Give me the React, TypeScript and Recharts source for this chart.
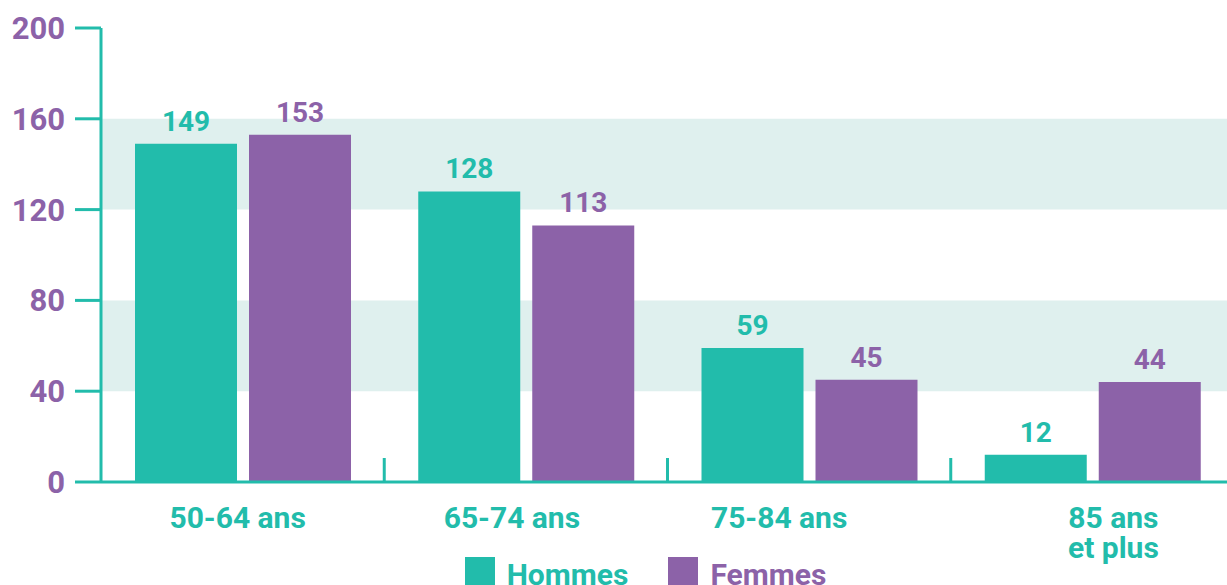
import React from 'react';
import {
  BarChart,
  Bar,
  XAxis,
  YAxis,
  ReferenceArea,
  LabelList,
  Legend
} from 'recharts';

const TEAL = '#22bcab';
const PURPLE = '#8c62a8';
const BAND = '#dff0ee';
const FONT = 'Roboto, "DejaVu Sans", sans-serif';

// values
const ageGroups = ['50-64 ans', '65-74 ans', '75-84 ans', '85 ans\net plus'];
const hommes = [149, 128, 59, 12];
const femmes = [153, 113, 45, 44];
const yTicks = [0, 40, 80, 120, 160, 200];
const bands: [number, number][] = [[40, 80], [120, 160]];

const data = ageGroups.map((name, i) => ({ name, hommes: hommes[i], femmes: femmes[i] }));

// the source places its category labels a little off-centre
const labelNudge = [-5, -14, -30, 21];

const XTick = (props: any) => {
  const { x, y, payload, index } = props;
  const lines = String(payload.value).split('\n');
  const half = payload.offset || 141.5;
  const tx = x + (labelNudge[index] || 0);
  return (
    <g>
      {index < ageGroups.length - 1 && (
        <line x1={x + half} x2={x + half} y1={y - 24} y2={y} stroke={TEAL} strokeWidth={3} />
      )}
      <text
        x={tx}
        y={y + 46}
        textAnchor="middle"
        fill={TEAL}
        fontSize={30}
        fontWeight={700}
        fontFamily={FONT}
      >
        {lines.map((l, i) => (
          <tspan key={i} x={tx} dy={i === 0 ? 0 : 30}>{l}</tspan>
        ))}
      </text>
    </g>
  );
};

const LegendContent = () => (
  <div style={{ display: 'flex', justifyContent: 'center', gap: 40, fontFamily: FONT, marginLeft: 64 }}>
    {[
      { label: 'Hommes', color: TEAL },
      { label: 'Femmes', color: PURPLE }
    ].map(item => (
      <div key={item.label} style={{ display: 'flex', alignItems: 'flex-start', gap: 12 }}>
        <span style={{ width: 30, height: 30, background: item.color, display: 'block' }} />
        <span style={{ color: item.color, fontSize: 30, fontWeight: 700, lineHeight: '30px', marginTop: 3 }}>
          {item.label}
        </span>
      </div>
    ))}
  </div>
);

export default function App() {
  return (
    <div style={{ position: 'absolute', left: 0, top: 0, width: 1227, height: 585, overflow: 'hidden', background: '#fff' }}>
      <BarChart
        width={1234}
        height={585}
        data={data}
        margin={{ top: 28, right: 0, left: 0, bottom: 0 }}
        barSize={102}
        barGap={12}
      >
        {bands.map(([a, b]) => (
          <ReferenceArea key={a} y1={a} y2={b} fill={BAND} fillOpacity={1} stroke="none" ifOverflow="visible" />
        ))}
        <XAxis
          dataKey="name"
          height={103}
          tickSize={0}
          tickMargin={0}
          tickLine={false}
          axisLine={{ stroke: TEAL, strokeWidth: 3 }}
          tick={<XTick />}
          interval={0}
        />
        <YAxis
          width={101}
          domain={[0, 200]}
          ticks={yTicks}
          tickSize={26}
          tickMargin={10}
          axisLine={{ stroke: TEAL, strokeWidth: 3 }}
          tickLine={{ stroke: TEAL, strokeWidth: 3 }}
          tick={{ fill: PURPLE, fontSize: 31, fontWeight: 700, fontFamily: FONT }}
        />
        <Legend verticalAlign="middle" align="center" layout="horizontal" wrapperStyle={{ top: 557, left: 0, width: 1227 }} content={<LegendContent />} />
        <Bar dataKey="hommes" name="Hommes" fill={TEAL} isAnimationActive={false}>
          <LabelList dataKey="hommes" position="top" offset={13} fill={TEAL} fontSize={28} fontWeight={700} fontFamily={FONT} />
        </Bar>
        <Bar dataKey="femmes" name="Femmes" fill={PURPLE} isAnimationActive={false}>
          <LabelList dataKey="femmes" position="top" offset={13} fill={PURPLE} fontSize={28} fontWeight={700} fontFamily={FONT} />
        </Bar>
      </BarChart>
    </div>
  );
}
